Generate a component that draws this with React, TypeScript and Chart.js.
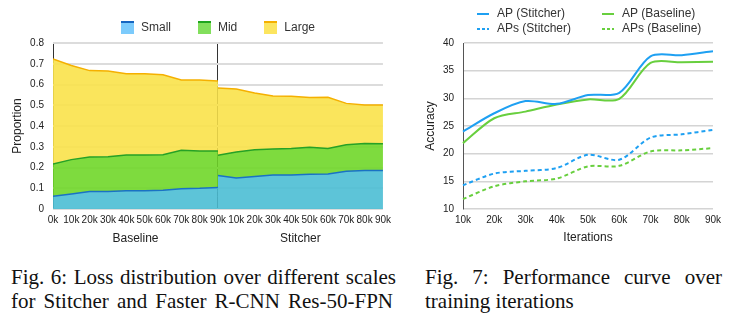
import React, { useEffect, useRef } from 'react';
import { Chart, registerables } from 'chart.js';

Chart.register(...registerables);

const FONT = '"Liberation Sans", Arial, Helvetica, sans-serif';
Chart.defaults.font.family = FONT;
Chart.defaults.color = '#222';

// ---------- Fig. 6 data (loss distribution) ----------
const lossTickLabels = ['0k', '10k', '20k', '30k', '40k', '50k', '60k', '70k', '80k', '90k',
  '10k', '20k', '30k', '40k', '50k', '60k', '70k', '80k', '90k'];
const lossSections = ['Baseline', 'Stitcher'];
const baselinePos = [0, 1, 2, 3, 4, 5, 6, 7, 8, 9];
const stitcherPos = [9, 10, 11, 12, 13, 14, 15, 16, 17, 18];
const scaleNames = ['Small', 'Mid', 'Large'];
const baselineSmall = [0.061, 0.072, 0.084, 0.084, 0.088, 0.088, 0.090, 0.098, 0.100, 0.104];
const baselineMid = [0.156, 0.166, 0.167, 0.168, 0.172, 0.172, 0.172, 0.185, 0.180, 0.176];
const baselineLarge = [0.506, 0.454, 0.416, 0.413, 0.392, 0.392, 0.385, 0.339, 0.342, 0.337];
const stitcherSmall = [0.162, 0.149, 0.157, 0.164, 0.164, 0.167, 0.169, 0.182, 0.185, 0.185];
const stitcherMid = [0.097, 0.126, 0.129, 0.125, 0.128, 0.130, 0.123, 0.128, 0.131, 0.130];
const stitcherLarge = [0.324, 0.303, 0.273, 0.256, 0.251, 0.240, 0.246, 0.199, 0.185, 0.186];

// ---------- Fig. 7 data (performance curve) ----------
const iterLabels = ['10k', '20k', '30k', '40k', '50k', '60k', '70k', '80k', '90k'];
const apStitcher = [24.0, 27.3, 29.5, 29.0, 30.6, 31.0, 37.6, 37.8, 38.5];
const apsStitcher = [14.3, 16.4, 16.9, 17.4, 19.8, 18.9, 22.9, 23.5, 24.3];
const apBaseline = [21.9, 26.4, 27.6, 28.9, 29.8, 29.9, 36.4, 36.5, 36.6];
const apsBaseline = [11.8, 14.1, 15.0, 15.5, 17.7, 17.8, 20.4, 20.6, 21.0];
const seriesNames = ['AP (Stitcher)', 'APs (Stitcher)', 'AP (Baseline)', 'APs (Baseline)'];

// ---------- styles ----------
const areaFill = ['rgba(75,190,212,0.9)', 'rgba(112,215,41,0.9)', 'rgba(249,226,74,0.9)'];
const areaLine = ['#1a72c4', '#26a126', '#f5b000'];
const legendFill = ['#7ccbfc', '#82df5c', '#fce55f'];
const legendEdge = ['#1565c0', '#1fa51f', '#f5b000'];
const BLUE = '#1ea0f2';
const GREEN = '#68cf3e';

const boxLegend = {
  id: 'boxLegend',
  afterDraw(chart: any, _a: any, opts: any) {
    const { ctx, chartArea } = chart;
    const items = opts.items || [];
    if (!items.length) return;
    ctx.save();
    ctx.font = `12px ${FONT}`;
    const widths = items.map((it: any) => 20 + ctx.measureText(it.text).width);
    const gap = 27;
    const total = widths.reduce((a: number, b: number) => a + b, 0) + gap * (items.length - 1);
    let x = (chartArea.left + chartArea.right) / 2 - total / 2;
    const y = opts.y;
    items.forEach((it: any, i: number) => {
      ctx.fillStyle = it.fill;
      ctx.fillRect(Math.round(x), y - 6.5, 13, 13);
      ctx.fillStyle = it.edge;
      ctx.fillRect(Math.round(x), y - 6.5, 13, 2);
      ctx.fillStyle = '#333';
      ctx.textBaseline = 'middle';
      ctx.textAlign = 'left';
      ctx.fillText(it.text, x + 20, y);
      x += widths[i] + gap;
    });
    ctx.restore();
  },
};

const lineLegend = {
  id: 'lineLegend',
  afterDraw(chart: any, _a: any, opts: any) {
    if (!opts.cols) return;
    const { ctx, chartArea } = chart;
    ctx.save();
    ctx.font = `12px ${FONT}`;
    ctx.textBaseline = 'middle';
    ctx.textAlign = 'left';
    chart.data.datasets.forEach((ds: any, i: number) => {
      const col = Math.floor(i / 2);
      const row = i % 2;
      const x = chartArea.left + opts.cols[col];
      const y = opts.rows[row];
      ctx.strokeStyle = ds.borderColor;
      ctx.lineWidth = 2;
      ctx.setLineDash(ds.borderDash ? [3, 2] : []);
      ctx.beginPath();
      ctx.moveTo(x, y);
      ctx.lineTo(x + 12, y);
      ctx.stroke();
      ctx.setLineDash([]);
      ctx.fillStyle = '#333';
      ctx.fillText(ds.label, x + 20, y);
    });
    ctx.restore();
  },
};

function LossChart() {
  const ref = useRef<HTMLCanvasElement>(null);
  useEffect(() => {
    const groups = [
      { stack: 'baseline', xs: baselinePos, series: [baselineSmall, baselineMid, baselineLarge] },
      { stack: 'stitcher', xs: stitcherPos, series: [stitcherSmall, stitcherMid, stitcherLarge] },
    ];
    const datasets: any[] = [];
    groups.forEach((g) => {
      g.series.forEach((vals, k) => {
        datasets.push({
          label: scaleNames[k],
          data: g.xs.map((x, i) => ({ x, y: vals[i] })),
          stack: g.stack,
          fill: k === 0 ? 'origin' : '-1',
          backgroundColor: areaFill[k],
          borderColor: areaLine[k],
          borderWidth: 1.5,
          pointRadius: 0,
          tension: 0,
          xAxisID: 'x',
          yAxisID: 'y',
        });
      });
    });
    const chart = new Chart(ref.current!, {
      type: 'line',
      data: { datasets },
      plugins: [boxLegend],
      options: {
        responsive: false,
        animation: false,
        layout: { padding: { top: 43, right: 10, bottom: 1, left: 0 } },
        plugins: {
          legend: { display: false },
          tooltip: { enabled: false },
          boxLegend: {
            y: 27.5,
            items: scaleNames.map((n, k) => ({ text: n, fill: legendFill[k], edge: legendEdge[k] })),
          },
        } as any,
        scales: {
          x: {
            type: 'linear',
            min: 0,
            max: 18,
            z: 1,
            ticks: {
              stepSize: 1,
              autoSkip: false,
              maxRotation: 0,
              padding: 5,
              font: { size: 10 },
              color: '#222',
              callback: (v: any) => lossTickLabels[v] ?? '',
            },
            grid: {
              drawTicks: false,
              lineWidth: 1,
              color: (c: any) => (c.tick && (c.tick.value === 0 || c.tick.value === 9) ? '#333' : 'rgba(0,0,0,0)'),
            },
            border: { display: false },
            afterFit: (s: any) => { s.height = 18; },
          },
          x2: {
            type: 'category',
            labels: lossSections,
            position: 'bottom',
            offset: true,
            grid: { display: false, drawTicks: false },
            border: { display: false },
            ticks: { padding: 4, font: { size: 12 }, color: '#222', maxRotation: 0 },
            afterFit: (s: any) => { s.height = 22; },
          },
          y: {
            stacked: true,
            min: 0,
            max: 0.8,
            ticks: { stepSize: 0.1, padding: 9, font: { size: 10 }, color: '#222' },
            grid: { color: '#dcdcdc', lineWidth: 2, drawTicks: false },
            border: { display: false },
            title: { display: true, text: 'Proportion', font: { size: 12 }, color: '#222', padding: { top: 10, bottom: 0 } },
            afterFit: (s: any) => { s.width = 53; },
          },
        } as any,
      },
    });
    return () => chart.destroy();
  }, []);
  return <canvas ref={ref} width={396} height={250} style={{ position: 'absolute', left: 0, top: 0 }} />;
}

function PerfChart() {
  const ref = useRef<HTMLCanvasElement>(null);
  useEffect(() => {
    const series = [apStitcher, apsStitcher, apBaseline, apsBaseline];
    const colors = [BLUE, BLUE, GREEN, GREEN];
    const dashed = [false, true, false, true];
    const chart = new Chart(ref.current!, {
      type: 'line',
      data: {
        labels: iterLabels,
        datasets: series.map((vals, i) => ({
          label: seriesNames[i],
          data: vals,
          borderColor: colors[i],
          borderDash: dashed[i] ? [4, 3] : undefined,
          borderWidth: 2,
          pointRadius: 0,
          tension: 0.3,
          fill: false,
        })),
      },
      plugins: [lineLegend],
      options: {
        responsive: false,
        animation: false,
        layout: { padding: { top: 43, right: 35, bottom: 1, left: 0 } },
        plugins: {
          legend: { display: false },
          tooltip: { enabled: false },
          lineLegend: { cols: [14, 139], rows: [14, 29] },
        } as any,
        scales: {
          x: {
            grid: { display: false, drawTicks: false },
            border: { display: false },
            ticks: { padding: 5, font: { size: 10 }, color: '#222', maxRotation: 0, autoSkip: false },
            title: { display: true, text: 'Iterations', font: { size: 12 }, color: '#222', padding: { top: 0, bottom: 4 } },
            afterFit: (s: any) => { s.height = 40; },
          },
          y: {
            min: 10,
            max: 40,
            ticks: { stepSize: 5, padding: 9, font: { size: 10 }, color: '#222' },
            grid: { color: '#d4d4d4', lineWidth: 1.5, drawTicks: false },
            border: { color: '#555', width: 1 },
            title: { display: true, text: 'Accuracy', font: { size: 12 }, color: '#222', padding: { top: 27, bottom: 0 } },
            afterFit: (s: any) => { s.width = 67; },
          },
        } as any,
      },
    });
    return () => chart.destroy();
  }, []);
  return <canvas ref={ref} width={352} height={250} style={{ position: 'absolute', left: 396, top: 0 }} />;
}

export default function App() {
  const cap: React.CSSProperties = {
    position: 'absolute',
    fontFamily: '"Liberation Serif", "Times New Roman", serif',
    fontSize: 21,
    lineHeight: '24px',
    color: '#111',
  };
  return (
    <div style={{ position: 'fixed', left: 0, top: 0, width: 748, height: 329, background: '#fff', overflow: 'hidden' }}>
      <LossChart />
      <PerfChart />
      <div style={{ ...cap, left: 11, top: 265, width: 385 }}>
        <div style={{ textAlign: 'justify', textAlignLast: 'justify', whiteSpace: 'nowrap' }}>Fig. 6: Loss distribution over different scales</div>
        <div style={{ textAlign: 'justify', textAlignLast: 'justify', whiteSpace: 'nowrap', width: 382 }}>for Stitcher and Faster R-CNN Res-50-FPN</div>
      </div>
      <div style={{ ...cap, left: 425, top: 265, width: 297, textAlign: 'justify' }}>
        Fig. 7: Performance curve over training iterations
      </div>
    </div>
  );
}
